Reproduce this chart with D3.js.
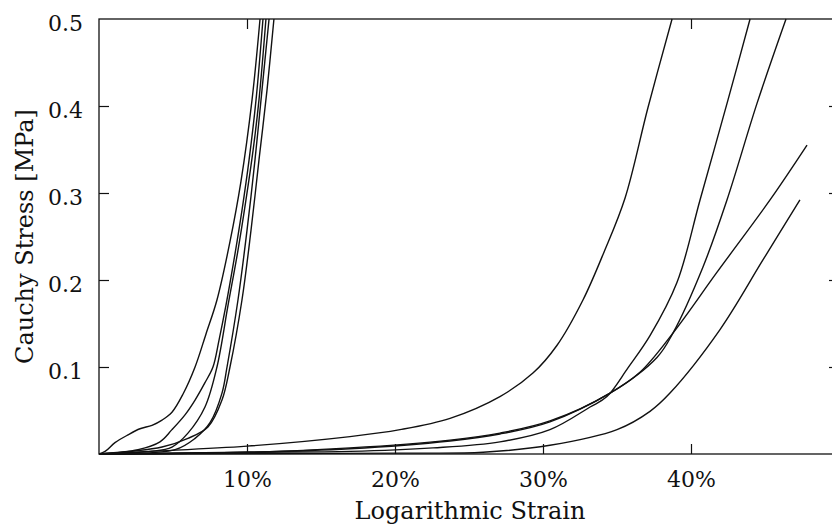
<!DOCTYPE html>
<html>
<head>
<meta charset="utf-8">
<script src="https://cdn.jsdelivr.net/npm/d3@7"></script>
<style>
  html, body { margin: 0; padding: 0; background: #fff; }
  svg { display: block; }
  text { font-family: "DejaVu Serif", serif; fill: #111; }
</style>
</head>
<body>
<svg id="chart" width="832" height="530"></svg>
<script>
// ---- data (strain in %, Cauchy stress in MPa) ----
const xTicks = [10, 20, 30, 40];
const xTickLabels = ["10%", "20%", "30%", "40%"];
const yTicks = [0.1, 0.2, 0.3, 0.4, 0.5];
const yTickLabels = ["0.1", "0.2", "0.3", "0.4", "0.5"];
const topTicks = [10, 40];
const rightTicks = [0.1, 0.2, 0.3, 0.4];

// early-stiffening group
const strainL1 = [0, 0.41, 1.08, 1.96, 2.77, 3.58, 4.26, 4.93, 5.68, 6.49, 7.23, 7.97, 8.85, 9.59, 10.34, 10.88];
const stressL1 = [0, 0.003, 0.013, 0.022, 0.029, 0.033, 0.039, 0.048, 0.069, 0.100, 0.138, 0.177, 0.244, 0.313, 0.407, 0.5];
const strainL2 = [0, 2.64, 4.12, 4.93, 5.81, 6.49, 7.16, 7.70, 8.11, 8.58, 9.12, 9.66, 10.14, 10.61, 11.08];
const stressL2 = [0, 0.005, 0.014, 0.028, 0.045, 0.062, 0.082, 0.100, 0.131, 0.171, 0.223, 0.280, 0.338, 0.407, 0.5];
const strainL3 = [0, 3.45, 4.93, 6.01, 7.16, 7.97, 8.72, 9.39, 9.93, 10.41, 10.81, 11.28];
const stressL3 = [0, 0.003, 0.008, 0.024, 0.054, 0.100, 0.171, 0.234, 0.292, 0.349, 0.407, 0.5];
const strainL4 = [0, 5.14, 6.49, 7.50, 8.31, 8.65, 9.39, 10.0, 10.54, 11.01, 11.49];
const stressL4 = [0, 0.005, 0.018, 0.036, 0.070, 0.100, 0.177, 0.257, 0.338, 0.418, 0.5];
const strainL5 = [0, 4.26, 6.01, 7.36, 8.31, 8.85, 9.66, 10.27, 10.81, 11.35, 11.82];
const stressL5 = [0, 0.008, 0.018, 0.031, 0.062, 0.100, 0.177, 0.257, 0.338, 0.418, 0.5];

// late-stiffening group
const strainR1 = [0, 3.45, 10.0, 16.96, 20.34, 23.72, 27.09, 29.32, 30.95, 32.70, 34.12, 35.54, 37.09, 38.72];
const stressR1 = [0, 0.003, 0.009, 0.020, 0.028, 0.041, 0.066, 0.093, 0.125, 0.177, 0.232, 0.294, 0.398, 0.5];
const strainR2 = [0, 10.0, 16.96, 22.57, 27.09, 30.47, 33.18, 34.32, 35.74, 37.23, 39.05, 40.61, 42.50, 43.99];
const stressR2 = [0, 0.002, 0.003, 0.007, 0.014, 0.028, 0.054, 0.066, 0.099, 0.136, 0.197, 0.292, 0.407, 0.5];
const strainR3 = [0, 10.20, 16.96, 23.72, 27.09, 30.47, 34.53, 37.70, 38.78, 40.81, 42.43, 44.46, 46.42];
const stressR3 = [0, 0.002, 0.007, 0.016, 0.024, 0.038, 0.070, 0.111, 0.139, 0.215, 0.292, 0.403, 0.5];
const strainR4 = [0, 10.20, 16.96, 23.72, 27.09, 30.47, 34.53, 36.55, 38.78, 41.76, 45.34, 47.84];
const stressR4 = [0, 0.002, 0.006, 0.015, 0.023, 0.037, 0.070, 0.094, 0.139, 0.209, 0.292, 0.355];
const strainR5 = [0, 20.34, 25.95, 30.47, 35.00, 37.23, 38.58, 41.96, 44.86, 47.36];
const stressR5 = [0, 0.001, 0.002, 0.010, 0.028, 0.049, 0.070, 0.143, 0.223, 0.292];

const curves = [
  [strainL1, stressL1], [strainL2, stressL2], [strainL3, stressL3],
  [strainL4, stressL4], [strainL5, stressL5],
  [strainR1, stressR1], [strainR2, stressR2], [strainR3, stressR3],
  [strainR4, stressR4], [strainR5, stressR5]
];

// ---- layout ----
const svg = d3.select("#chart");
const L = 99, R = 839, T = 19, B = 454;
const x = d3.scaleLinear().domain([0, 50]).range([L, R]);
const y = d3.scaleLinear().domain([0, 0.5]).range([B, T]);

svg.append("defs").append("clipPath").attr("id", "clip")
  .append("rect").attr("x", L).attr("y", T - 1).attr("width", R - L).attr("height", B - T + 2);

// curves
const line = d3.line().x(d => x(d[0])).y(d => y(d[1])).curve(d3.curveCatmullRom.alpha(0.5));
svg.append("g").attr("clip-path", "url(#clip)")
  .selectAll("path").data(curves).enter().append("path")
  .attr("d", c => line(c[0].map((s, i) => [s, c[1][i]])))
  .attr("fill", "none").attr("stroke", "#111").attr("stroke-width", 1.4);

// axes (ticks inward)
const gx = svg.append("g").attr("transform", `translate(0,${B})`)
  .call(d3.axisBottom(x).tickValues(xTicks).tickSizeInner(-10).tickSizeOuter(0)
    .tickFormat((d, i) => xTickLabels[i]).tickPadding(23));
const gy = svg.append("g").attr("transform", `translate(${L},0)`)
  .call(d3.axisLeft(y).tickValues(yTicks).tickSizeInner(-10).tickSizeOuter(0)
    .tickFormat((d, i) => yTickLabels[i]).tickPadding(25));
const gt = svg.append("g").attr("transform", `translate(0,${T})`)
  .call(d3.axisTop(x).tickValues(topTicks).tickSizeInner(-10).tickSizeOuter(0).tickFormat(""));
const gr = svg.append("g").attr("transform", `translate(${R},0)`)
  .call(d3.axisRight(y).tickValues(rightTicks).tickSizeInner(-10).tickSizeOuter(0).tickFormat(""));

[gx, gy, gt, gr].forEach(g => {
  g.select(".domain").remove();
  g.selectAll(".tick line").attr("stroke", "#111").attr("stroke-width", 1.2);
  g.selectAll("text").style("font-family", "DejaVu Serif").style("font-size", "22px").attr("fill", "#111");
});
gy.selectAll(".tick text").attr("dy", "0.5em").attr("x", -16);
gy.selectAll(".tick line").filter(d => d === 0.5).remove();
gx.selectAll(".tick text").attr("dy", "0.45em");

// frame
svg.append("rect").attr("x", L).attr("y", T).attr("width", R - L).attr("height", B - T)
  .attr("fill", "none").attr("stroke", "#111").attr("stroke-width", 1.3);

// titles
svg.append("text").attr("x", 470).attr("y", 519).attr("text-anchor", "middle")
  .style("font-size", "24px").text("Logarithmic Strain");
svg.append("text").attr("transform", "translate(33,236.5) rotate(-90)").attr("text-anchor", "middle")
  .style("font-size", "24px").text("Cauchy Stress [MPa]");
</script>
</body>
</html>
